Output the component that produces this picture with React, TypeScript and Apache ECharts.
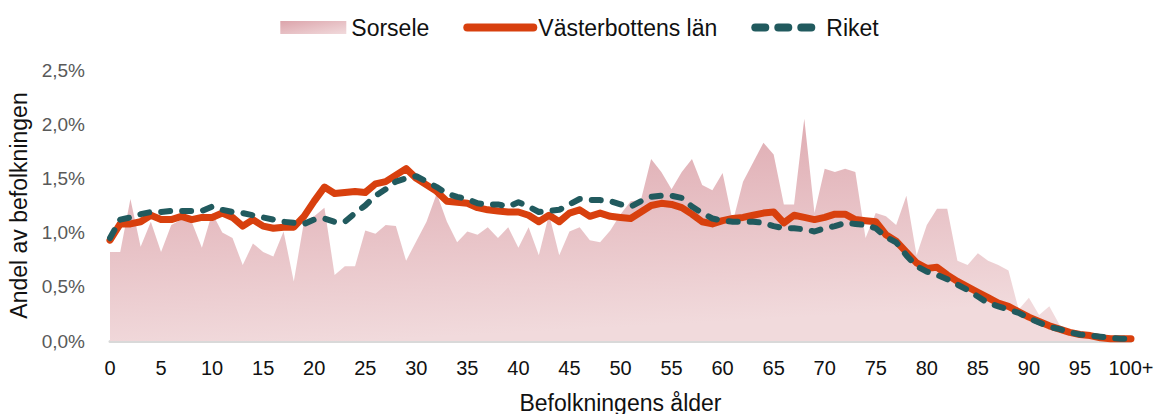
import React, { useEffect, useRef } from "react";
import * as echarts from "echarts";

const ages: string[] = [];
for (let i = 0; i < 100; i++) ages.push(String(i));
ages.push("100+");

const sorsele = [
  0.82, 0.82, 1.31, 0.87, 1.10, 0.82, 1.07, 1.12, 1.10, 0.86,
  1.18, 1.00, 0.95, 0.70, 0.90, 0.82, 0.78, 1.01, 0.55, 1.10,
  1.15, 1.23, 0.61, 0.69, 0.69, 1.02, 0.99, 1.07, 1.06, 0.74,
  0.92, 1.10, 1.36, 1.10, 0.91, 1.01, 0.98, 1.05, 0.95, 1.05,
  0.86, 1.05, 0.79, 1.17, 0.79, 1.01, 1.05, 0.93, 0.91, 1.02,
  1.17, 1.29, 1.30, 1.68, 1.56, 1.40, 1.56, 1.68, 1.44, 1.39,
  1.55, 1.10, 1.47, 1.65, 1.83, 1.72, 1.26, 1.26, 2.05, 1.18,
  1.59, 1.56, 1.59, 1.56, 0.95, 1.18, 1.15, 1.07, 1.34, 0.79,
  1.07, 1.22, 1.22, 0.74, 0.70, 0.81, 0.74, 0.70, 0.65, 0.29,
  0.40, 0.24, 0.32, 0.15, 0.07, 0.05, 0.03, 0.02, 0.02, 0.01,
  0.01,
];

const vasterbotten = [
  0.93, 1.08, 1.08, 1.10, 1.16, 1.12, 1.12, 1.15, 1.12, 1.14,
  1.14, 1.18, 1.14, 1.06, 1.12, 1.06, 1.04, 1.05, 1.05, 1.15,
  1.29, 1.42, 1.36, 1.37, 1.38, 1.37, 1.45, 1.47, 1.53, 1.59,
  1.50, 1.44, 1.38, 1.29, 1.28, 1.27, 1.23, 1.21, 1.20, 1.19,
  1.19, 1.16, 1.10, 1.16, 1.10, 1.18, 1.21, 1.15, 1.18, 1.15,
  1.14, 1.13, 1.19, 1.25, 1.27, 1.26, 1.23, 1.17, 1.10, 1.08,
  1.11, 1.13, 1.14, 1.16, 1.18, 1.19, 1.09, 1.16, 1.14, 1.12,
  1.14, 1.17, 1.17, 1.12, 1.11, 1.10, 0.98, 0.92, 0.82, 0.72,
  0.67, 0.68, 0.61, 0.55, 0.50, 0.45, 0.40, 0.35, 0.32, 0.27,
  0.22, 0.18, 0.14, 0.11, 0.08, 0.06, 0.05, 0.03, 0.02, 0.02,
  0.02,
];

const riket = [
  0.95, 1.12, 1.14, 1.17, 1.19, 1.19, 1.20, 1.20, 1.20, 1.20,
  1.24, 1.21, 1.19, 1.18, 1.16, 1.14, 1.12, 1.10, 1.09, 1.08,
  1.12, 1.13, 1.10, 1.10, 1.18, 1.25, 1.34, 1.40, 1.47, 1.50,
  1.52, 1.47, 1.42, 1.36, 1.33, 1.31, 1.27, 1.26, 1.26, 1.24,
  1.28, 1.24, 1.19, 1.20, 1.21, 1.26, 1.31, 1.30, 1.30, 1.29,
  1.26, 1.24, 1.29, 1.33, 1.34, 1.34, 1.32, 1.24, 1.18, 1.13,
  1.11, 1.10, 1.10, 1.10, 1.09, 1.06, 1.04, 1.04, 1.03, 1.01,
  1.04, 1.06, 1.09, 1.08, 1.07, 1.04, 0.96, 0.91, 0.79, 0.69,
  0.64, 0.61, 0.57, 0.52, 0.47, 0.41, 0.35, 0.32, 0.29, 0.26,
  0.21, 0.17, 0.13, 0.11, 0.08, 0.06, 0.05, 0.04, 0.03, 0.02,
  0.02,
];

const FONT = "Liberation Sans, Arial, sans-serif";

export default function App() {
  const ref = useRef<HTMLDivElement>(null);
  useEffect(() => {
    document.body.style.margin = "0";
    if (!ref.current) return;
    const chart = echarts.init(ref.current, undefined, { renderer: "svg" });
    const areaGrad = new echarts.graphic.LinearGradient(0, 0, 0.25, 1, [
      { offset: 0, color: "#dca4ab" },
      { offset: 1, color: "#f1dadc" },
    ]);
    const legendGrad = new echarts.graphic.LinearGradient(0, 0, 1, 1, [
      { offset: 0, color: "#dca4ab" },
      { offset: 1, color: "#f1dadc" },
    ]);
    chart.setOption({
      animation: false,
      textStyle: { fontFamily: FONT },
      legend: {
        top: 11,
        left: "center",
        itemWidth: 66,
        itemHeight: 13,
        itemGap: 34,
        itemStyle: { opacity: 0 },
        lineStyle: { width: "inherit" },
        textStyle: { fontSize: 23, color: "#111", fontFamily: FONT },
        data: [
          {
            name: "Sorsele",
            icon: "rect",
            itemStyle: { color: legendGrad, opacity: 1 },
          },
          { name: "Västerbottens län", lineStyle: { width: 8, cap: "round" } },
          { name: "Riket", lineStyle: { width: 8, cap: "round", type: [10, 13] } },
        ],
      },
      grid: { left: 110, right: 28, top: 70, bottom: 73, outerBoundsMode: "none" },
      xAxis: {
        type: "category",
        data: ages,
        boundaryGap: false,
        name: "Befolkningens ålder",
        nameLocation: "middle",
        nameGap: 50,
        nameTextStyle: { fontSize: 23, color: "#111", fontFamily: FONT },
        axisLine: { lineStyle: { color: "#d9d9d9", width: 3 } },
        axisTick: { show: false },
        axisLabel: {
          interval: 4,
          fontSize: 20,
          color: "#111",
          margin: 17,
          fontFamily: FONT,
        },
        splitLine: { show: false },
      },
      yAxis: {
        type: "value",
        min: 0,
        max: 2.5,
        interval: 0.5,
        name: "Andel av befolkningen",
        nameLocation: "middle",
        nameGap: 80,
        nameTextStyle: { fontSize: 23, color: "#111", fontFamily: FONT },
        axisLine: { show: false },
        axisTick: { show: false },
        splitLine: { show: false },
        axisLabel: {
          fontSize: 19,
          color: "#595959",
          margin: 25,
          fontFamily: FONT,
          formatter: (v: number) => v.toFixed(1).replace(".", ",") + "%",
        },
      },
      series: [
        {
          name: "Sorsele",
          type: "line",
          data: sorsele,
          symbol: "none",
          lineStyle: { width: 0 },
          itemStyle: { color: "#dca4ab" },
          areaStyle: { color: areaGrad, opacity: 1 },
          z: 1,
        },
        {
          name: "Västerbottens län",
          type: "line",
          data: vasterbotten,
          symbol: "none",
          itemStyle: { color: "#d8400e" },
          lineStyle: { color: "#d8400e", width: 7, cap: "round", join: "round" },
          z: 2,
        },
        {
          name: "Riket",
          type: "line",
          data: riket,
          symbol: "none",
          itemStyle: { color: "#215a5e" },
          lineStyle: {
            color: "#215a5e",
            width: 6,
            type: [9, 12],
            cap: "round",
            join: "round",
          },
          z: 3,
        },
      ],
    });
    return () => chart.dispose();
  }, []);
  return <div ref={ref} style={{ width: 1159, height: 414 }} />;
}
